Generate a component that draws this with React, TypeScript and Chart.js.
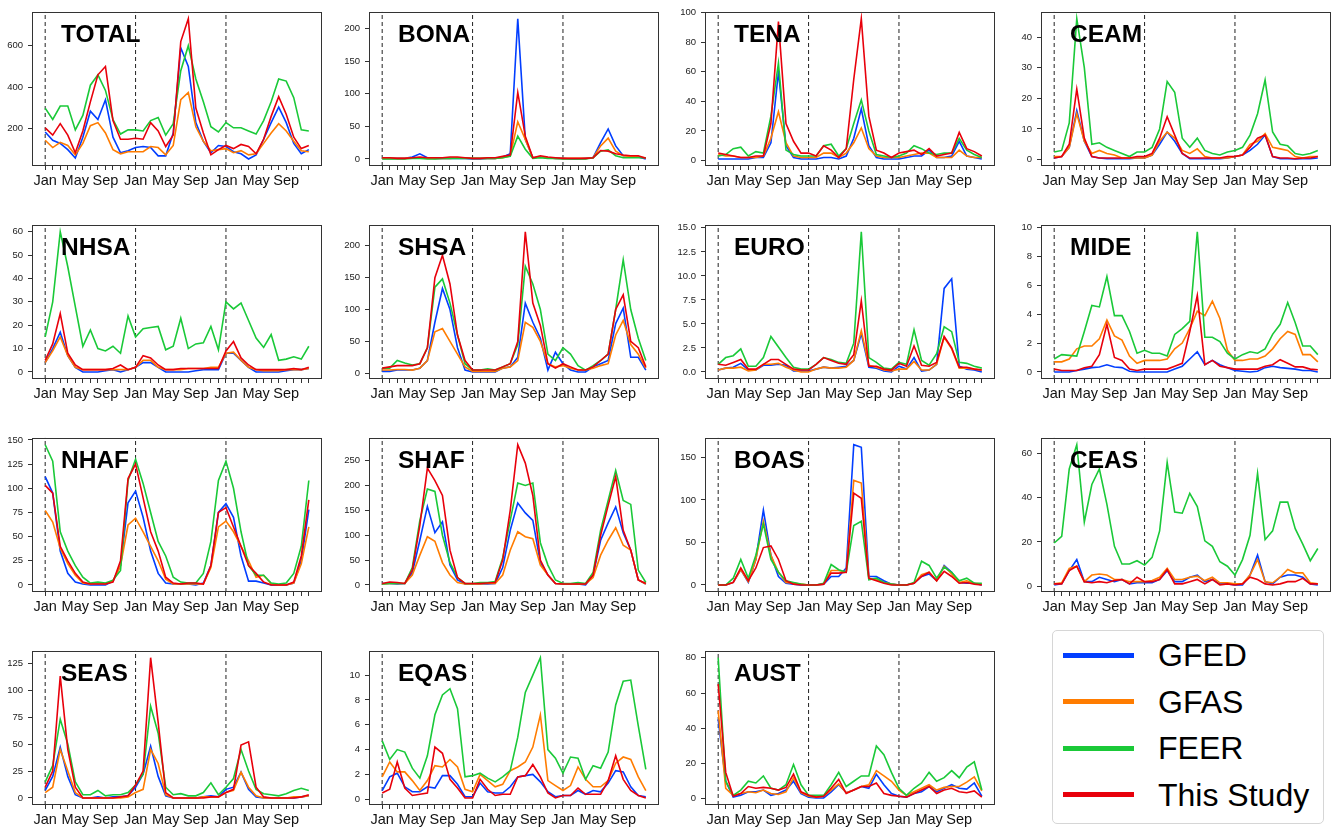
import React, { useEffect, useRef } from 'react';
import { Chart, registerables } from 'chart.js';
Chart.register(...registerables);

const MONTHS = ['Jan', 'Feb', 'Mar', 'Apr', 'May', 'Jun', 'Jul', 'Aug', 'Sep', 'Oct', 'Nov', 'Dec'];
const LABELED_MONTHS = ['Jan', 'May', 'Sep'];
const YEAR_STARTS = [0, 12, 24];
const SERIES_NAMES = ['GFED', 'GFAS', 'FEER', 'This Study'];
const SERIES_COLORS = ['#023eff', '#ff7c00', '#1ac938', '#e8000b'];

// ---- TOTAL
const TOTAL_GFED = [185,145,130,100,60,160,285,245,340,160,85,95, 110,115,110,70,70,180,590,500,230,140,85,120, 115,90,80,55,75,150,230,305,230,130,80,100];
const TOTAL_GFAS = [145,110,135,120,75,130,215,230,180,100,80,90, 90,90,115,110,75,120,340,375,210,140,95,100, 105,85,95,75,80,130,180,225,190,140,95,90];
const TOTAL_FEER = [300,245,310,310,195,265,410,460,385,245,175,195, 195,190,240,255,170,225,480,600,440,330,210,185, 230,205,205,190,175,240,330,440,430,350,195,190];
const TOTAL_THIS = [205,170,225,170,85,190,330,460,500,240,150,150, 155,150,230,190,115,170,620,730,300,180,75,100, 120,105,125,115,80,150,260,355,270,160,105,120];
const TOTAL_TICKS = [200, 400, 600];
// ---- BONA
const BONA_GFED = [1,1,1,1,3,8,2,1,1,1,1,1, 0,0,1,1,3,8,215,30,2,3,2,1, 1,0,0,1,2,25,46,20,5,5,3,0];
const BONA_GFAS = [1,1,1,1,2,2,1,1,1,1,2,2, 1,1,1,1,2,5,57,30,2,3,2,1, 1,1,1,1,2,20,32,12,5,4,3,2];
const BONA_FEER = [0,0,0,0,1,1,0,0,1,1,1,1, 1,1,1,1,2,4,35,15,1,2,1,1, 0,0,0,0,2,12,14,5,2,2,2,2];
const BONA_THIS = [2,2,1,1,2,3,2,2,2,3,3,2, 1,1,2,2,4,6,102,35,2,5,3,2, 1,1,1,1,2,13,12,8,6,5,5,1];
const BONA_TICKS = [0, 50, 100, 150, 200];
// ---- TENA
const TENA_GFED = [1,1,1,1,1,2,2,12,60,10,2,1, 1,1,2,2,1,3,15,35,10,2,1,1, 1,2,3,3,7,2,2,3,13,3,2,1];
const TENA_GFAS = [4,3,3,2,2,2,3,15,33,12,3,2, 2,2,5,5,2,5,12,22,8,3,2,2, 2,3,4,5,5,2,2,2,7,3,2,2];
const TENA_FEER = [3,4,8,9,3,6,5,30,66,7,4,3, 3,3,10,11,3,8,25,41,20,4,3,2, 3,5,10,8,5,4,5,5,15,7,4,2];
const TENA_THIS = [5,4,3,2,2,3,3,25,94,25,13,5, 5,3,10,7,2,8,55,96,30,7,5,2, 5,6,7,4,8,3,4,5,19,8,6,3];
const TENA_TICKS = [0, 20, 40, 60, 80, 100];
// ---- CEAM
const CEAM_GFED = [0.5,1,4,16,6,1,0.5,0.3,0.3,0.3,0.3,0.5, 0.5,1.5,5,9,6,2,0.3,0.3,0.3,0.3,0.3,0.5, 1,1.5,3,5,8,1,0.3,0.3,0.2,0.3,0.3,0.5];
const CEAM_GFAS = [1,1,4,15,6,2,3,2,1.5,0.5,0.5,0.5, 0.5,1.5,6,9,7,3,2,3.5,1,0.5,0.5,0.5, 1,1.5,5,6,8.5,4,3.5,3,1,0.5,1,1];
const CEAM_FEER = [2.5,3,12,46,30,5,5.5,4,3,2,1,2.5, 2.5,4,10,25.5,22,7,4,7,3,2,1.5,2.5, 3,4,8,15,26,9,5,4.5,2,1.5,2,3];
const CEAM_THIS = [0.5,1,5,23,7,1,0.5,0.5,0.5,0.5,0.5,1, 1,2,7,14,8,2,0.5,0.5,0.5,0.5,0.5,1, 1,1.5,4,7,8,1,0.5,0.5,0.3,0.5,0.5,1];
const CEAM_TICKS = [0, 10, 20, 30, 40];
// ---- NHSA
const NHSA_GFED = [4,10,17,7,2,0,0,0,0.5,1,0,1, 2,4,4,2,0,0,0,0,0.5,1,1,1, 8,8,5,2,0,0,0,0,0.5,1,1,1.5];
const NHSA_GFAS = [4,9,15,7,2,1,1,1,1,1,1,1, 2,5,5,2,1,1,1,1.5,1.5,1.5,2,2, 8,8.5,5,2,1,0.5,0.5,0.5,1,1,1,1.5];
const NHSA_FEER = [15,30,60,45,28,11,18,10,9,11,8,24, 15,18.5,19,19.5,9.5,11,23,10,12,12.5,19.5,9.5, 30,27,29.5,22,14.5,10.5,16,5,5.5,6.5,5.5,11];
const NHSA_THIS = [5,12,25,8,3,1,1,1,1,1.5,3,1, 2,7,6,3,1,1,1.5,1.5,1.5,1.5,1.5,1.5, 9,13,6,3,1,1,1,1,1,1.5,1,2];
const NHSA_TICKS = [0, 10, 20, 30, 40, 50, 60];
// ---- SHSA
const SHSA_GFED = [3,3,5,5,5,8,20,80,133,100,40,5, 2,2,2,2,8,10,25,110,80,55,5,33, 15,5,2,2,10,15,20,78,102,25,25,5];
const SHSA_GFAS = [5,5,6,6,5,8,20,65,70,50,30,10, 3,3,3,3,8,10,20,80,72,50,15,10, 12,8,5,5,8,12,15,60,83,45,30,8];
const SHSA_FEER = [8,8,20,16,13,15,40,135,148,110,60,15, 5,5,7,5,10,15,45,168,140,100,30,20, 40,30,12,5,12,20,30,100,178,100,55,20];
const SHSA_THIS = [8,10,12,12,12,15,40,150,185,140,60,20, 5,5,5,5,10,15,50,222,110,75,15,8, 15,10,5,5,10,20,30,100,123,50,40,10];
const SHSA_TICKS = [0, 50, 100, 150, 200];
// ---- EURO
const EURO_GFED = [0.2,0.4,0.5,0.9,0.2,0.2,0.7,0.7,0.8,0.7,0.1,0.1, 0.1,0.3,0.5,0.4,0.5,0.6,1.2,4.0,0.5,0.4,0.1,0.0, 0.6,0.3,1.5,0.1,0.2,0.8,8.7,9.7,0.6,0.3,0.2,0.0];
const EURO_GFAS = [0.2,0.4,0.4,0.5,0.1,0.2,0.8,0.8,0.9,0.5,0.2,0.0, 0.0,0.3,0.5,0.4,0.4,0.5,1.2,4.3,0.7,0.5,0.2,0.1, 0.3,0.3,1.1,0.2,0.2,0.8,3.6,2.4,0.4,0.4,0.3,0.2];
const EURO_FEER = [0.8,1.5,1.7,2.4,0.6,0.6,1.5,3.7,2.6,1.5,0.5,0.3, 0.3,0.8,1.5,1.3,1.0,0.9,3.0,14.6,1.5,1.0,0.4,0.3, 1.0,0.8,4.4,1.2,0.7,1.9,4.7,4.2,1.0,0.9,0.6,0.4];
const EURO_THIS = [0.8,0.7,1.0,1.3,0.3,0.3,0.8,1.3,1.3,0.8,0.3,0.2, 0.2,0.8,1.5,1.2,0.9,0.8,1.8,7.4,0.6,0.6,0.3,0.2, 0.9,0.6,2.7,0.7,0.6,1.0,3.7,2.5,0.5,0.5,0.3,0.2];
const EURO_TICKS = [0, 2.5, 5, 7.5, 10, 12.5, 15];
// ---- MIDE
const MIDE_GFED = [0,0,0,0.1,0.2,0.3,0.35,0.5,0.35,0.3,0.05,0, 0,0,0,0,0.2,0.4,0.9,1.4,0.5,0.8,0.5,0.3, 0.1,0.05,0,0.05,0.3,0.4,0.3,0.25,0.2,0.1,0.1,0];
const MIDE_GFAS = [0.7,0.7,0.9,1.6,1.8,1.8,2.3,3.6,2.5,2.2,1.1,0.6, 0.8,0.8,0.8,0.9,1.6,2.0,3.0,4.2,3.9,4.9,3.7,1.5, 0.8,0.8,0.9,0.9,1.1,1.6,2.3,2.8,2.6,1.2,1.2,0.7];
const MIDE_FEER = [0.9,1.2,1.15,1.1,2.8,4.6,4.5,6.6,3.9,3.9,2.8,1.3, 1.5,1.3,1.3,1.1,2.6,3.0,3.5,9.7,2.4,2.4,2.1,1.3, 0.9,1.2,1.4,1.3,1.6,2.6,3.3,4.8,3.4,1.8,1.8,1.2];
const MIDE_THIS = [0.2,0.1,0.1,0.1,0.3,0.4,1.2,3.3,1.0,0.8,0.2,0.1, 0.2,0.2,0.2,0.2,0.4,0.6,2.8,5.3,0.5,0.8,0.4,0.3, 0.2,0.2,0.2,0.2,0.4,0.5,0.85,0.6,0.35,0.35,0.2,0.15];
const MIDE_TICKS = [0, 2, 4, 6, 8, 10];
// ---- NHAF
const NHAF_GFED = [112,95,35,12,3,1,0,0,0,4,20,85, 97,70,35,12,2,1,1,1,0,2,20,75, 84,70,30,4,4,2,0,0,0,2,25,78];
const NHAF_GFAS = [77,65,38,22,10,2,1,2,1,4,20,62, 69,55,40,25,6,1,1,1,1,1,18,60, 66,55,40,25,8,10,1,0,0,2,22,60];
const NHAF_FEER = [145,128,55,35,20,8,2,3,2,5,15,108, 130,105,75,45,30,8,3,2,2,12,45,108, 128,100,55,20,10,10,2,1,2,12,40,108];
const NHAF_THIS = [103,95,40,25,12,3,1,1,1,3,25,110, 125,90,55,35,8,2,1,2,2,1,20,75, 80,60,40,20,12,3,0,0,0,3,30,88];
const NHAF_TICKS = [0, 25, 50, 75, 100, 125, 150];
// ---- SHAF
const SHAF_GFED = [3,3,2,3,25,90,158,105,127,40,10,2, 2,2,2,3,35,110,165,145,130,45,20,3, 2,2,2,0,20,90,125,157,105,70,10,2];
const SHAF_GFAS = [2,3,3,3,20,60,97,88,45,20,5,2, 2,2,3,3,20,70,107,97,93,40,20,3, 2,2,2,2,15,60,90,115,80,70,10,2];
const SHAF_FEER = [2,3,3,3,35,130,193,188,100,45,15,3, 3,5,5,7,55,130,205,200,205,85,40,10, 3,3,5,3,25,110,170,230,170,162,30,5];
const SHAF_THIS = [3,6,5,3,30,120,235,210,180,70,15,3, 3,3,4,5,50,150,282,245,180,50,20,3, 2,2,2,2,20,100,160,218,110,70,10,3];
const SHAF_TICKS = [0, 50, 100, 150, 200, 250];
// ---- BOAS
const BOAS_GFED = [0,0,3,18,3,30,88,35,10,2,1,0, 0,0,1,10,10,20,165,162,10,10,5,1, 0,0,2,10,13,5,23,15,3,2,2,0];
const BOAS_GFAS = [0,0,3,18,4,30,75,35,15,3,2,1, 0,0,1,17,17,15,123,120,8,6,3,1, 0,0,2,12,15,5,22,13,3,5,2,1];
const BOAS_FEER = [0,0,8,30,8,35,72,30,15,5,3,1, 0,0,2,24,18,15,70,75,6,8,3,1, 0,0,3,28,23,8,21,15,5,8,2,2];
const BOAS_THIS = [0,0,3,20,5,20,44,46,30,5,1,0, 0,0,1,14,14,15,108,102,8,5,2,0, 0,0,2,10,15,5,16,10,2,3,1,0];
const BOAS_TICKS = [0, 50, 100, 150];
// ---- CEAS
const CEAS_GFED = [0.5,1,7,12,2,2,4,3,2,3,1,1.5, 1.5,1.5,3,7,2,2,4,5,2,3,1,1, 0.5,0.5,5,14,2,1,4,5,5,4,1,0.5];
const CEAS_GFAS = [1,1.5,8,9,2,5,5.5,5,3,3,2,2, 2,2.5,4,8,3,3,4,4.5,2.5,4,1.5,1.5, 1,1,5,12,2,1.5,4,7.5,6,6,1.5,1];
const CEAS_FEER = [19.5,22.5,53,64,29,46,53,37,18,10,10,11.5, 9.5,13,25,56,33.5,33,42,36,20.5,18,11,9, 5,12,23,51,21,25,38,38,26,19,11.5,17];
const CEAS_THIS = [1,1,7,9,2,1.5,2,1.5,2.5,3,1,4, 2,2,3,7.5,1,1,2,3,1,3,0.5,1, 0.5,1,4,3,1,0.5,1,2,2,3.5,1,1];
const CEAS_TICKS = [0, 20, 40, 60];
// ---- SEAS
const SEAS_GFED = [7,20,47,20,3,0,0,1,0,1,1,2, 10,22,48,20,2,0,0,0,0,1,2,1, 8,10,24,8,1,0,0,0,0,0,1,2];
const SEAS_GFAS = [5,10,45,25,5,0,0,0,0,0,0,1, 5,8,45,32,3,0,0,0,0,1,1,1, 5,7,24,10,2,0,0,0,0,1,1,2];
const SEAS_FEER = [15,30,73,50,15,3,3,7,2,3,3,5, 12,22,85,60,10,3,4,2,2,5,14,3, 10,18,45,25,8,4,3,2,4,7,9,7];
const SEAS_THIS = [10,25,113,45,10,0,0,0,0,0,1,2, 12,25,130,70,5,0,0,0,0,0,1,1, 5,8,49,52,10,1,0,0,0,0,1,3];
const SEAS_TICKS = [0, 25, 50, 75, 100, 125];
// ---- EQAS
const EQAS_GFED = [0.7,1.8,2.1,1.0,0.6,0.6,1.0,0.9,1.9,1.9,1.2,0.2, 0.2,1.3,0.6,0.5,0.5,1.0,1.8,1.9,2.0,1.4,0.6,0.2, 0.3,0.3,0.7,0.4,0.7,0.6,1.3,2.3,2.2,1.0,0.3,0.2];
const EQAS_GFAS = [1.8,3.0,2.2,2.2,1.5,0.7,1.5,2.7,2.6,3.2,2.6,0.8, 0.6,2.0,1.5,1.0,1.2,2.3,2.6,3.0,4.2,6.8,1.5,1.1, 0.7,1.1,2.6,1.6,1.0,1.0,1.5,2.9,3.4,3.2,1.8,0.7];
const EQAS_FEER = [4.7,3.2,4.0,3.8,2.5,1.7,3.5,6.8,8.4,8.9,7.3,1.8, 1.9,2.1,1.7,1.4,1.8,2.3,5.0,8.6,10.0,11.4,4.0,3.3, 2.1,3.4,3.3,1.6,2.7,2.5,3.8,7.6,9.5,9.6,5.9,2.4];
const EQAS_THIS = [0.5,0.8,3.0,0.9,0.3,0.4,0.5,4.2,3.7,1.6,0.9,0.1, 0.1,1.6,0.8,0.3,0.4,0.4,1.8,1.9,2.8,1.8,0.5,0.1, 0.3,0.3,0.9,0.4,0.4,0.4,1.5,3.5,1.6,0.7,0.3,0.1];
const EQAS_TICKS = [0, 2, 4, 6, 8, 10];
// ---- AUST
const AUST_GFED = [45,10,1,2,4,4,5,2,3,5,10,3, 1,0.5,0.5,4,8,3.5,5,7,6,14,8,3, 1.5,1,3,4,7,4,6,8,6,5.5,9,1.5];
const AUST_GFAS = [50,6,2,3,4,3.5,5,3,2.5,4,12,3.5, 1.5,1,1.5,5,8.5,3.5,5,7,8,16,13,10, 5,2,4,6,8,5,6.5,7,7,9.5,12.5,4.5];
const AUST_FEER = [80,10,2,5,10,9,13,6,5,8,19.5,8, 2,2,2,8,15,7,10,13,13,30,25,15, 6,2,6,9,15,10,12,16,12,18,21,5];
const AUST_THIS = [65,15,1.5,3,7,6,6.5,6,5,6.5,14,4, 2,1,1.5,6,11,3,5,7,7,9,3,2, 1.5,1,3,5,7,3,5,6,4,3.5,4.5,1];
const AUST_TICKS = [0, 20, 40, 60, 80];

const PANELS = [
  { name: 'TOTAL', series: [TOTAL_GFED, TOTAL_GFAS, TOTAL_FEER, TOTAL_THIS], ticks: TOTAL_TICKS },
  { name: 'BONA', series: [BONA_GFED, BONA_GFAS, BONA_FEER, BONA_THIS], ticks: BONA_TICKS },
  { name: 'TENA', series: [TENA_GFED, TENA_GFAS, TENA_FEER, TENA_THIS], ticks: TENA_TICKS },
  { name: 'CEAM', series: [CEAM_GFED, CEAM_GFAS, CEAM_FEER, CEAM_THIS], ticks: CEAM_TICKS },
  { name: 'NHSA', series: [NHSA_GFED, NHSA_GFAS, NHSA_FEER, NHSA_THIS], ticks: NHSA_TICKS },
  { name: 'SHSA', series: [SHSA_GFED, SHSA_GFAS, SHSA_FEER, SHSA_THIS], ticks: SHSA_TICKS },
  { name: 'EURO', series: [EURO_GFED, EURO_GFAS, EURO_FEER, EURO_THIS], ticks: EURO_TICKS, decimals: 1 },
  { name: 'MIDE', series: [MIDE_GFED, MIDE_GFAS, MIDE_FEER, MIDE_THIS], ticks: MIDE_TICKS },
  { name: 'NHAF', series: [NHAF_GFED, NHAF_GFAS, NHAF_FEER, NHAF_THIS], ticks: NHAF_TICKS },
  { name: 'SHAF', series: [SHAF_GFED, SHAF_GFAS, SHAF_FEER, SHAF_THIS], ticks: SHAF_TICKS },
  { name: 'BOAS', series: [BOAS_GFED, BOAS_GFAS, BOAS_FEER, BOAS_THIS], ticks: BOAS_TICKS },
  { name: 'CEAS', series: [CEAS_GFED, CEAS_GFAS, CEAS_FEER, CEAS_THIS], ticks: CEAS_TICKS },
  { name: 'SEAS', series: [SEAS_GFED, SEAS_GFAS, SEAS_FEER, SEAS_THIS], ticks: SEAS_TICKS },
  { name: 'EQAS', series: [EQAS_GFED, EQAS_GFAS, EQAS_FEER, EQAS_THIS], ticks: EQAS_TICKS },
  { name: 'AUST', series: [AUST_GFED, AUST_GFAS, AUST_FEER, AUST_THIS], ticks: AUST_TICKS },
];

const FONT = '"Liberation Sans", Arial, Helvetica, sans-serif';
const COL_LEFTS = [32, 369, 705, 1041];
const ROW_TOPS = [9, 222, 435, 648];
const FRAME_W = 290;
const FRAME_H = 157;
const Y_AXIS_W = 32;
const PAD_TOP = 8;
const PAD_RIGHT = 6;
const X_AXIS_H = 30;

const titlePlugin = {
  id: 'panelTitle',
  afterDatasetsDraw(chart: any, _args: any, opts: any) {
    const { ctx, chartArea } = chart;
    ctx.save();
    ctx.font = `bold 24.5px ${FONT}`;
    ctx.fillStyle = '#000';
    ctx.textBaseline = 'alphabetic';
    ctx.textAlign = 'left';
    ctx.fillText(opts.text, chartArea.left + 29, chartArea.top + 30);
    ctx.restore();
  },
};

const framePlugin = {
  id: 'panelFrame',
  afterDraw(chart: any) {
    const { ctx, chartArea } = chart;
    ctx.save();
    ctx.strokeStyle = '#333';
    ctx.lineWidth = 1;
    ctx.strokeRect(
      Math.round(chartArea.left) + 0.5,
      Math.round(chartArea.top) + 0.5,
      Math.round(chartArea.right - chartArea.left) - 1,
      Math.round(chartArea.bottom - chartArea.top) - 1
    );
    ctx.restore();
  },
};

function Panel({ region, left, top }: any) {
  const ref = useRef<HTMLCanvasElement>(null);
  useEffect(() => {
    const all: number[] = region.series.flat();
    const dmin = Math.min(...all);
    const dmax = Math.max(...all);
    const pad = (dmax - dmin) * 0.05;
    const lo = dmin - pad;
    const hi = dmax + pad;
    const n = region.series[0].length;
    const datasets: any[] = [];
    for (let s = region.series.length - 1; s >= 0; s--) {
      datasets.push({
        label: SERIES_NAMES[s],
        data: region.series[s].map((v: number, i: number) => ({ x: i, y: v })),
        borderColor: SERIES_COLORS[s],
        backgroundColor: SERIES_COLORS[s],
        borderWidth: 1.6,
        pointRadius: 0,
        tension: 0,
        fill: false,
      });
    }
    YEAR_STARTS.forEach((x) => {
      datasets.push({
        label: 'year',
        data: [{ x, y: lo }, { x, y: hi }],
        borderColor: '#222',
        borderWidth: 1,
        borderDash: [4, 3],
        pointRadius: 0,
        fill: false,
      });
    });
    const chart = new Chart(ref.current as HTMLCanvasElement, {
      type: 'line',
      data: { datasets },
      plugins: [titlePlugin, framePlugin],
      options: {
        animation: false,
        responsive: false,
        devicePixelRatio: 1,
        layout: { padding: { top: PAD_TOP, right: PAD_RIGHT, left: 0, bottom: 0 } },
        plugins: {
          legend: { display: false },
          tooltip: { enabled: false },
          panelTitle: { text: region.name },
        } as any,
        scales: {
          x: {
            type: 'linear',
            bounds: 'data',
            min: -1.75,
            max: n - 1 + 1.75,
            afterBuildTicks: (scale: any) => {
              scale.ticks = Array.from({ length: n }, (_, i) => ({ value: i }));
            },
            afterFit: (scale: any) => {
              scale.height = X_AXIS_H;
            },
            ticks: {
              autoSkip: false,
              maxRotation: 0,
              minRotation: 0,
              padding: 2,
              color: '#111',
              font: { family: FONT, size: 14.5 },
              callback: (v: any) => {
                const m = MONTHS[((Math.round(v) % 12) + 12) % 12];
                return LABELED_MONTHS.includes(m) ? m : '';
              },
            },
            grid: { display: true, drawOnChartArea: false, drawTicks: true, tickLength: 4, color: '#333', lineWidth: 1 },
            border: { display: false },
          },
          y: {
            type: 'linear',
            bounds: 'data',
            min: lo,
            max: hi,
            afterBuildTicks: (scale: any) => {
              scale.ticks = region.ticks.map((v: number) => ({ value: v }));
            },
            afterFit: (scale: any) => {
              scale.width = Y_AXIS_W;
            },
            ticks: {
              padding: 5,
              color: '#222',
              font: { family: FONT, size: 9.5 },
              callback: (v: any) => (region.decimals ? Number(v).toFixed(region.decimals) : String(v)),
            },
            grid: { display: true, drawOnChartArea: false, drawTicks: true, tickLength: 4, color: '#333', lineWidth: 1 },
            border: { display: false },
          },
        },
      } as any,
    });
    return () => chart.destroy();
  }, [region]);
  const w = Y_AXIS_W + FRAME_W + PAD_RIGHT;
  const h = PAD_TOP + FRAME_H + X_AXIS_H;
  return (
    <canvas
      ref={ref}
      width={w}
      height={h}
      style={{ position: 'absolute', left: left - Y_AXIS_W, top: top - PAD_TOP, width: w, height: h }}
    />
  );
}

function Legend() {
  return (
    <div
      style={{
        position: 'absolute',
        left: 1052,
        top: 630,
        width: 272,
        height: 194,
        border: '1px solid #d6d6d6',
        borderRadius: 5,
        boxSizing: 'border-box',
        background: '#fff',
        fontFamily: FONT,
      }}
    >
      {SERIES_NAMES.map((name, i) => (
        <div
          key={name}
          style={{
            position: 'absolute',
            left: 0,
            top: 24 + i * 46.5 - 20,
            height: 40,
            display: 'flex',
            alignItems: 'center',
            whiteSpace: 'nowrap',
          }}
        >
          <div style={{ marginLeft: 10, width: 71, height: 5, background: SERIES_COLORS[i] }} />
          <div style={{ marginLeft: 24, fontSize: 32, lineHeight: '40px', color: '#000' }}>{name}</div>
        </div>
      ))}
    </div>
  );
}

export default function App() {
  return (
    <div
      style={{
        position: 'fixed',
        left: 0,
        top: 0,
        width: 1336,
        height: 833,
        background: '#fff',
        overflow: 'hidden',
      }}
    >
      {PANELS.map((p, i) => (
        <Panel key={p.name} region={p} left={COL_LEFTS[i % 4]} top={ROW_TOPS[Math.floor(i / 4)]} />
      ))}
      <Legend />
    </div>
  );
}
